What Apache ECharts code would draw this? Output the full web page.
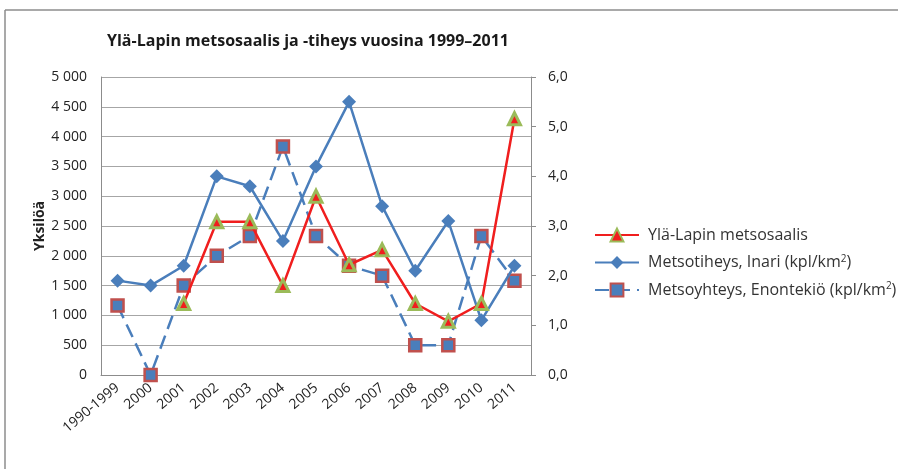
<!DOCTYPE html>
<html>
<head>
<meta charset="utf-8">
<script src="https://cdn.jsdelivr.net/npm/echarts@6/dist/echarts.min.js"></script>
<style>
  html, body { margin: 0; padding: 0; background: #fff; }
  #chart { width: 898px; height: 469px; }
</style>
</head>
<body>
<div id="chart"></div>
<script>
// vuodet
const years = ['1990-1999', '2000', '2001', '2002', '2003', '2004', '2005', '2006', '2007', '2008', '2009', '2010', '2011'];
// saalis, yksilöä (vasen akseli)
const saalis = [null, null, 1200, 2570, 2570, 1500, 3000, 1850, 2100, 1200, 900, 1200, 4300];
// tiheys, kpl/km2 (oikea akseli)
const inari = [1.9, 1.8, 2.2, 4.0, 3.8, 2.7, 4.2, 5.5, 3.4, 2.1, 3.1, 1.1, 2.2];
const enontekio = [1.4, 0.0, 1.8, 2.4, 2.8, 4.6, 2.8, 2.2, 2.0, 0.6, 0.6, 2.8, 1.9];

const fontBase = '"Open Sans", "Noto Sans", sans-serif';
const gridColor = '#a6a6a6';

const chart = echarts.init(document.getElementById('chart'));

const option = {
  backgroundColor: '#fff',
  animation: false,
  title: {
    text: 'Ylä-Lapin metsosaalis ja -tiheys vuosina 1999–2011',
    left: 102,
    top: 28,
    textStyle: { fontFamily: fontBase, fontSize: 16, fontWeight: 'bold', color: '#1a1a1a' }
  },
  graphic: [
    { type: 'line', shape: { x1: 5, y1: 10, x2: 898, y2: 10 }, style: { stroke: '#8c8c8c', lineWidth: 1.5 } },
    { type: 'line', shape: { x1: 5, y1: 10, x2: 5, y2: 469 }, style: { stroke: '#8c8c8c', lineWidth: 1.5 } }
  ],
  legend: {
    orient: 'vertical',
    left: 589,
    top: 222,
    itemGap: 11,
    itemWidth: 44,
    itemHeight: 16,
    textStyle: { fontFamily: fontBase, fontSize: 16, color: '#333', padding: [0, 0, 0, 4], rich: { sup: { fontSize: 10, verticalAlign: 'top', padding: [0, 0, 7, 0] } } },
    formatter: function (name) {
      return name.replace('km2', 'km{sup|2}');
    },
    data: ['Ylä-Lapin metsosaalis', 'Metsotiheys, Inari (kpl/km2)', 'Metsoyhteys, Enontekiö (kpl/km2)']
  },
  grid: { left: 101, right: 367, top: 77, bottom: 94 },
  xAxis: {
    type: 'category',
    data: years,
    boundaryGap: true,
    axisLine: { lineStyle: { color: '#8c8c8c', width: 1 } },
    axisTick: { show: false },
    axisLabel: { rotate: 40, fontFamily: fontBase, fontSize: 14, color: '#222', margin: 11, interval: 0 }
  },
  yAxis: [
    {
      type: 'value',
      min: 0, max: 5000, interval: 500,
      name: 'Yksilöä',
      nameLocation: 'middle',
      nameGap: 48,
      nameTextStyle: { fontFamily: fontBase, fontSize: 14, fontWeight: 'bold', color: '#222' },
      axisLine: { show: true, lineStyle: { color: '#8c8c8c' } },
      axisTick: { show: false },
      splitLine: { lineStyle: { color: gridColor, width: 1 } },
      axisLabel: {
        fontFamily: fontBase, fontSize: 14, color: '#222', margin: 14,
        formatter: function (v) { return v >= 1000 ? Math.floor(v / 1000) + ' ' + String(v % 1000).padStart(3, '0') : String(v); }
      }
    },
    {
      type: 'value',
      min: 0, max: 6, interval: 1,
      position: 'right',
      axisLine: { show: true, lineStyle: { color: '#8c8c8c' } },
      axisTick: { show: true, inside: false, length: 5, lineStyle: { color: '#8c8c8c' } },
      splitLine: { show: false },
      axisLabel: {
        fontFamily: fontBase, fontSize: 14, color: '#222', margin: 17,
        formatter: function (v) { return v.toFixed(1).replace('.', ','); }
      }
    }
  ],
  series: [
    {
      name: 'Metsoyhteys, Enontekiö (kpl/km2)',
      type: 'line',
      yAxisIndex: 1,
      data: enontekio,
      symbol: 'rect',
      symbolSize: 12,
      lineStyle: { color: '#4a7ebb', width: 2.5, type: [14, 7] },
      itemStyle: { color: '#4a7ebb', borderColor: '#c0504d', borderWidth: 2.5 },
      z: 3
    },
    {
      name: 'Metsotiheys, Inari (kpl/km2)',
      type: 'line',
      yAxisIndex: 1,
      data: inari,
      symbol: 'diamond',
      symbolSize: 14,
      lineStyle: { color: '#4a7ebb', width: 2.5 },
      itemStyle: { color: '#4a7ebb', borderWidth: 0 },
      z: 4
    },
    {
      name: 'Ylä-Lapin metsosaalis',
      type: 'line',
      yAxisIndex: 0,
      data: saalis,
      symbol: 'triangle',
      symbolSize: 12,
      lineStyle: { color: '#f01e1e', width: 2.5 },
      itemStyle: { color: '#f01e1e', borderColor: '#9bbb59', borderWidth: 3 },
      z: 5
    }
  ]
};

chart.setOption(option);
</script>
</body>
</html>
